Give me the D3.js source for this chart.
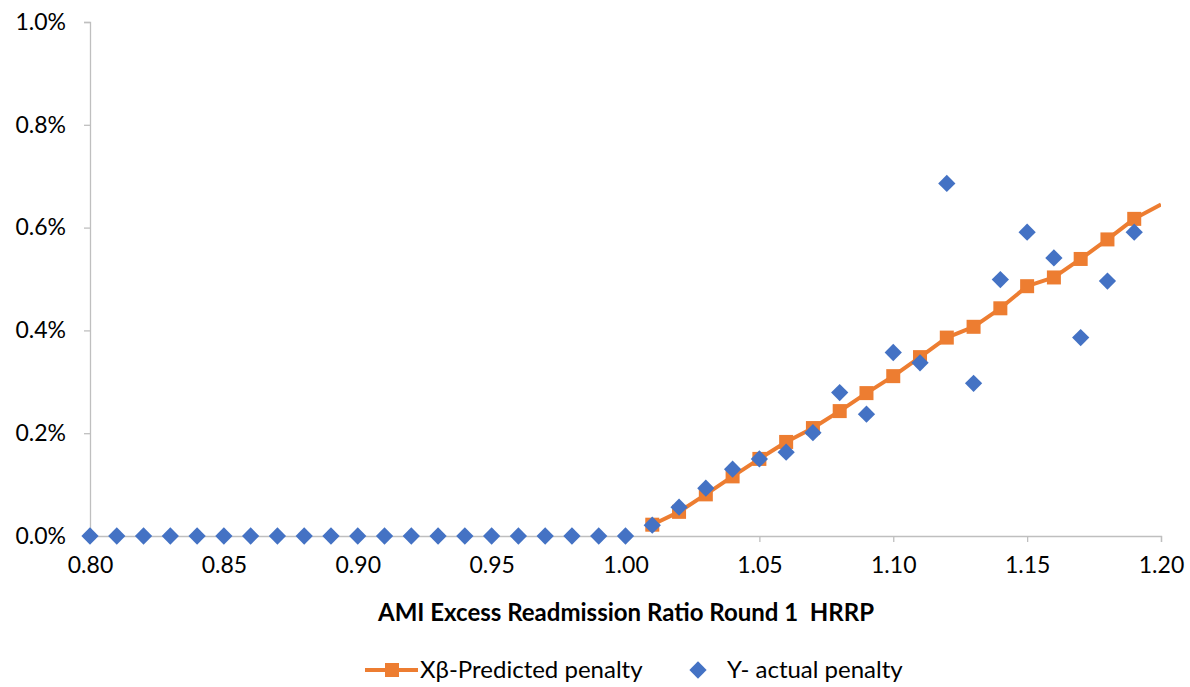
<!DOCTYPE html>
<html>
<head>
<meta charset="utf-8">
<script src="https://cdn.jsdelivr.net/npm/d3@7"></script>
<style>
  html, body { margin: 0; padding: 0; background: #fff; }
  svg { display: block; }
  text { font-family: Lato, "Open Sans", sans-serif; fill: #000; }
</style>
</head>
<body>
<svg id="chart" width="1190" height="687"></svg>
<script>
// Excess readmission ratio (x) and penalty rates (%)
const ratioActual = [0.80,0.81,0.82,0.83,0.84,0.85,0.86,0.87,0.88,0.89,0.90,0.91,0.92,0.93,0.94,0.95,0.96,0.97,0.98,0.99,1.00,
                     1.01,1.02,1.03,1.04,1.05,1.06,1.07,1.08,1.09,1.10,1.11,1.12,1.13,1.14,1.15,1.16,1.17,1.18,1.19];
const actualPenalty = [0,0,0,0,0,0,0,0,0,0,0,0,0,0,0,0,0,0,0,0,0,
                       0.021,0.056,0.093,0.130,0.150,0.163,0.201,0.279,0.237,0.357,0.337,0.686,0.297,0.499,0.591,0.541,0.386,0.496,0.591];

const ratioPredicted = [1.01,1.02,1.03,1.04,1.05,1.06,1.07,1.08,1.09,1.10,1.11,1.12,1.13,1.14,1.15,1.16,1.17,1.18,1.19,1.20];
const predictedPenalty = [0.022,0.047,0.081,0.116,0.150,0.183,0.210,0.243,0.278,0.311,0.348,0.386,0.407,0.443,0.486,0.503,0.539,0.577,0.617,0.645];
const predictedMarked = 19; // markers drawn for the first 19 points only

const xTicks = [0.80,0.85,0.90,0.95,1.00,1.05,1.10,1.15,1.20];
const yTicks = [0,0.2,0.4,0.6,0.8,1.0];

const xTitle = "AMI Excess Readmission Ratio Round 1  HRRP";
const legendLabels = ["Xβ-Predicted penalty", "Y- actual penalty"];

const blue = "#4472C4", orange = "#ED7D31", axisGray = "#BFBFBF";

const svg = d3.select("#chart");
const plot = { left: 90, right: 1161, top: 22, bottom: 536 };

const x = d3.scaleLinear().domain([0.80, 1.20]).range([plot.left, plot.right]);
const y = d3.scaleLinear().domain([0, 1.0]).range([plot.bottom, plot.top]);

// Y axis
const yAxis = svg.append("g")
  .attr("transform", `translate(${plot.left},0)`)
  .call(d3.axisLeft(y).tickValues(yTicks).tickSize(6).tickPadding(18)
        .tickFormat(d => d.toFixed(1) + "%"));
yAxis.select(".domain").attr("stroke", axisGray).attr("stroke-width", 1.3);
yAxis.selectAll(".tick line").attr("stroke", axisGray).attr("stroke-width", 1.3);
yAxis.selectAll(".tick text").style("font-size", "23px").style("font-family", "Lato, sans-serif").attr("fill", "#000");

// X axis
const xAxis = svg.append("g")
  .attr("transform", `translate(0,${plot.bottom})`)
  .call(d3.axisBottom(x).tickValues(xTicks).tickSize(6).tickPadding(15)
        .tickFormat(d3.format(".2f")));
xAxis.select(".domain").attr("stroke", axisGray).attr("stroke-width", 1.3);
xAxis.selectAll(".tick line").attr("stroke", axisGray).attr("stroke-width", 1.3);
xAxis.selectAll(".tick text").style("font-size", "23px").style("font-family", "Lato, sans-serif").attr("fill", "#000");

// Axis title
svg.append("text")
  .attr("x", 626).attr("y", 621)
  .attr("text-anchor", "middle")
  .style("white-space", "pre")
  .style("font-size", "24px").style("font-weight", "bold")
  .text(xTitle);

// Clip for the predicted line
svg.append("clipPath").attr("id", "plotClip")
  .append("rect").attr("x", plot.left).attr("y", plot.top)
  .attr("width", plot.right - plot.left).attr("height", plot.bottom - plot.top);

const predicted = ratioPredicted.map((r, i) => ({ r, v: predictedPenalty[i] }));
const actual = ratioActual.map((r, i) => ({ r, v: actualPenalty[i] }));

const line = d3.line().x(d => x(d.r)).y(d => y(d.v));
svg.append("path")
  .datum(predicted)
  .attr("clip-path", "url(#plotClip)")
  .attr("fill", "none").attr("stroke", orange).attr("stroke-width", 4)
  .attr("stroke-linejoin", "round")
  .attr("d", line);

const sq = 14;
svg.append("g").selectAll("rect")
  .data(predicted.slice(0, predictedMarked))
  .join("rect")
  .attr("x", d => x(d.r) - sq / 2).attr("y", d => y(d.v) - sq / 2)
  .attr("width", sq).attr("height", sq)
  .attr("fill", orange);

const diamond = d3.symbol().type(d3.symbolDiamond2).size(190);
svg.append("g").selectAll("path")
  .data(actual)
  .join("path")
  .attr("transform", d => `translate(${x(d.r)},${y(d.v)})`)
  .attr("d", diamond)
  .attr("fill", blue);

// Legend
const lg = svg.append("g");
lg.append("line").attr("x1", 365).attr("x2", 418).attr("y1", 670).attr("y2", 670)
  .attr("stroke", orange).attr("stroke-width", 4);
lg.append("rect").attr("x", 392 - 7).attr("y", 670 - 7).attr("width", 14).attr("height", 14).attr("fill", orange);
lg.append("text").attr("x", 420).attr("y", 678).style("font-size", "24px").text(legendLabels[0]);
lg.append("path").attr("transform", "translate(698,670)").attr("d", diamond).attr("fill", blue);
lg.append("text").attr("x", 727).attr("y", 678).style("font-size", "24px").text(legendLabels[1]);
</script>
</body>
</html>
